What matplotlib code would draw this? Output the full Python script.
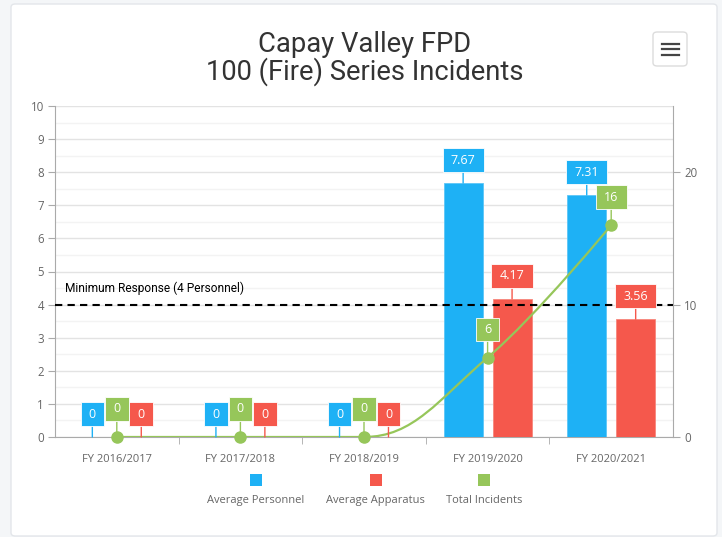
import numpy as np
import matplotlib.pyplot as plt
from matplotlib.patches import FancyBboxPatch, Rectangle, PathPatch
from matplotlib.path import Path

# data
categories = ['FY 2016/2017', 'FY 2017/2018', 'FY 2018/2019', 'FY 2019/2020', 'FY 2020/2021']
avg_personnel = [0, 0, 0, 7.67, 7.31]
avg_apparatus = [0, 0, 0, 4.17, 3.56]
total_incidents = [0, 0, 0, 6, 16]
personnel_labels = ['0', '0', '0', '7.67', '7.31']
apparatus_labels = ['0', '0', '0', '4.17', '3.56']
incident_labels = ['0', '0', '0', '6', '16']

blue = '#1eb1f5'
red = '#f5584c'
green = '#96c65a'
gray_txt = '#666666'

W, H = 722, 537
fig = plt.figure(figsize=(W / 100, H / 100), dpi=100)
fig.patch.set_facecolor('#f4f6f8')

# card background
card = FancyBboxPatch((11 / W, 1 - 536 / H), (717 - 11) / W, (536 - 4) / H,
                      boxstyle='round,pad=0,rounding_size=0.006',
                      transform=fig.transFigure, facecolor='white',
                      edgecolor='#e3e6ea', lw=1, zorder=-10)
fig.patches.append(card)

# menu button
btn = FancyBboxPatch((653 / W, 1 - 66 / H), 34 / W, 34 / H,
                     boxstyle='round,pad=0,rounding_size=0.006',
                     transform=fig.transFigure, facecolor='white',
                     edgecolor='#dcdcdc', lw=1, zorder=1)
fig.patches.append(btn)
for yy in (43.5, 49, 54.5):
    fig.add_artist(plt.Line2D([662 / W, 679 / W], [1 - yy / H, 1 - yy / H],
                              color='#444444', lw=1.6, transform=fig.transFigure))

# title
fig.text(365 / W, 1 - 44 / H, 'Capay Valley FPD', ha='center', va='center',
         fontsize=19.7, family='Roboto', color='#333333')
fig.text(365 / W, 1 - 72 / H, '100 (Fire) Series Incidents', ha='center', va='center',
         fontsize=19.7, family='Roboto', color='#333333')

# axes
x0, x1, y0, y1 = 55, 673, 106, 437
ax = fig.add_axes([x0 / W, 1 - y1 / H, (x1 - x0) / W, (y1 - y0) / H])
ax.set_facecolor('none')
ax2 = ax.twinx()

x = np.arange(len(categories))
bw = 0.316
off = 0.198
ax.bar(x - off, avg_personnel, bw, color=blue, edgecolor='#5cc6f7', lw=0.6, zorder=3)
ax.bar(x + off, avg_apparatus, bw, color=red, edgecolor='#f7867c', lw=0.6, zorder=3)

ax.set_xlim(-0.5, 4.5)
ax.set_ylim(0, 10)
ax.set_yticks(range(0, 11))
ax.set_yticks(np.arange(0.5, 10, 1), minor=True)
ax.grid(axis='y', which='major', color='#e3e3e3', lw=1, zorder=0)
ax.grid(axis='y', which='minor', color='#f3f3f3', lw=1, zorder=0)
ax.set_axisbelow(True)

ax.set_xticks(x)
ax.set_xticklabels(categories)
ax.set_xticks(np.arange(0.5, 4.5, 1), minor=True)
ax.tick_params(axis='x', which='major', length=0, pad=12, labelsize=8, labelcolor=gray_txt)
ax.tick_params(axis='x', which='minor', length=5, color='#aaaaaa', direction='out')
ax.tick_params(axis='y', which='major', length=5, color='#aaaaaa', labelsize=8.3,
               labelcolor=gray_txt, pad=3)
ax.tick_params(axis='y', which='minor', length=0)
for lbl in ax.get_xticklabels() + ax.get_yticklabels():
    lbl.set_family('Open Sans')

for s in ['top', 'right']:
    ax.spines[s].set_visible(False)
ax.spines['left'].set_color('#aaaaaa')
ax.spines['bottom'].set_color('#aaaaaa')

# min response line
ax.axhline(4, color='black', lw=1.5, ls=(0, (3.5, 2.5)), zorder=4)
ax.annotate('Minimum Response (4 Personnel)', xy=(0, 4), xycoords=('axes fraction', 'data'),
            xytext=(10, 10), textcoords='offset pixels', fontsize=8.6, family='Roboto',
            color='black', va='bottom', ha='left')

# secondary axis
ax2.set_ylim(0, 25)
ax2.set_yticks([0, 10, 20])
ax2.tick_params(axis='y', length=5, color='#aaaaaa', labelsize=8.3, labelcolor=gray_txt, pad=3)
for lbl in ax2.get_yticklabels():
    lbl.set_family('Open Sans')
for s in ['top', 'left', 'bottom']:
    ax2.spines[s].set_visible(False)
ax2.spines['right'].set_color('#aaaaaa')


def spline_path(xs, ys, smoothing=1.5):
    # highcharts style spline control points
    n = len(xs)
    lc = [None] * n
    rc = [None] * n
    for i in range(1, n - 1):
        d = smoothing + 1
        lx = (smoothing * xs[i] + xs[i - 1]) / d
        ly = (smoothing * ys[i] + ys[i - 1]) / d
        rx = (smoothing * xs[i] + xs[i + 1]) / d
        ry = (smoothing * ys[i] + ys[i + 1]) / d
        corr = (ry - ly) * (rx - xs[i]) / (rx - lx) + ys[i] - ry
        ly += corr
        ry += corr
        if ly > ys[i - 1] and ly > ys[i]:
            ly = max(ys[i - 1], ys[i])
            ry = 2 * ys[i] - ly
        elif ly < ys[i - 1] and ly < ys[i]:
            ly = min(ys[i - 1], ys[i])
            ry = 2 * ys[i] - ly
        if ry > ys[i + 1] and ry > ys[i]:
            ry = max(ys[i + 1], ys[i])
            ly = 2 * ys[i] - ry
        elif ry < ys[i + 1] and ry < ys[i]:
            ry = min(ys[i + 1], ys[i])
            ly = 2 * ys[i] - ry
        lc[i] = (lx, ly)
        rc[i] = (rx, ry)
    verts = [(xs[0], ys[0])]
    codes = [Path.MOVETO]
    for i in range(1, n):
        a = rc[i - 1] if rc[i - 1] else (xs[i - 1], ys[i - 1])
        b = lc[i] if lc[i] else (xs[i], ys[i])
        verts += [a, b, (xs[i], ys[i])]
        codes += [Path.CURVE4] * 3
    return Path(verts, codes)


ax2.add_patch(PathPatch(spline_path(list(x), total_incidents), fill=False,
                        edgecolor=green, lw=1.6, zorder=3))
ax2.plot(x, total_incidents, 'o', color=green, ms=8, zorder=4, clip_on=False)


def label_box(x0, y0, width, height, mutation_size):
    # wider than tall padding, like the html labels
    px = 0.66 * mutation_size
    py = 0.42 * mutation_size
    x0, y0 = x0 - px, y0 - py
    x1, y1 = x0 + width + 2 * px, y0 + height + 2 * py
    return Path([(x0, y0), (x1, y0), (x1, y1), (x0, y1), (x0, y0)], closed=True)


def box_label(axis, xv, yv, text, color, dy):
    ax2.annotate(text, xy=(xv, yv), xycoords=axis.transData,
                 xytext=(0, dy), textcoords='offset pixels',
                 ha='center', va='center', fontsize=9, family='Open Sans', color='white',
                 bbox=dict(boxstyle=label_box, fc=color, ec='white', lw=0.6),
                 arrowprops=dict(arrowstyle='-', color=color, lw=1, shrinkA=0, shrinkB=0),
                 zorder=6, annotation_clip=False)


for i in range(len(categories)):
    box_label(ax, x[i] - off, avg_personnel[i], personnel_labels[i], blue, 23)
    box_label(ax, x[i] + off, avg_apparatus[i], apparatus_labels[i], red, 23)
    box_label(ax2, x[i], total_incidents[i], incident_labels[i], green, 28)

# legend
legend_items = [('Average Personnel', blue, 256), ('Average Apparatus', red, 375.5),
                ('Total Incidents', green, 484)]
for name, col, cx in legend_items:
    fig.patches.append(Rectangle(((cx - 6) / W, 1 - 486 / H), 12 / W, 12 / H,
                                 transform=fig.transFigure, facecolor=col,
                                 edgecolor='none', zorder=2))
    fig.text(cx / W, 1 - 503 / H, name, ha='center', va='baseline', fontsize=8,
             family='Open Sans', color=gray_txt)

fig.savefig('out.png', dpi=100, facecolor=fig.get_facecolor())
